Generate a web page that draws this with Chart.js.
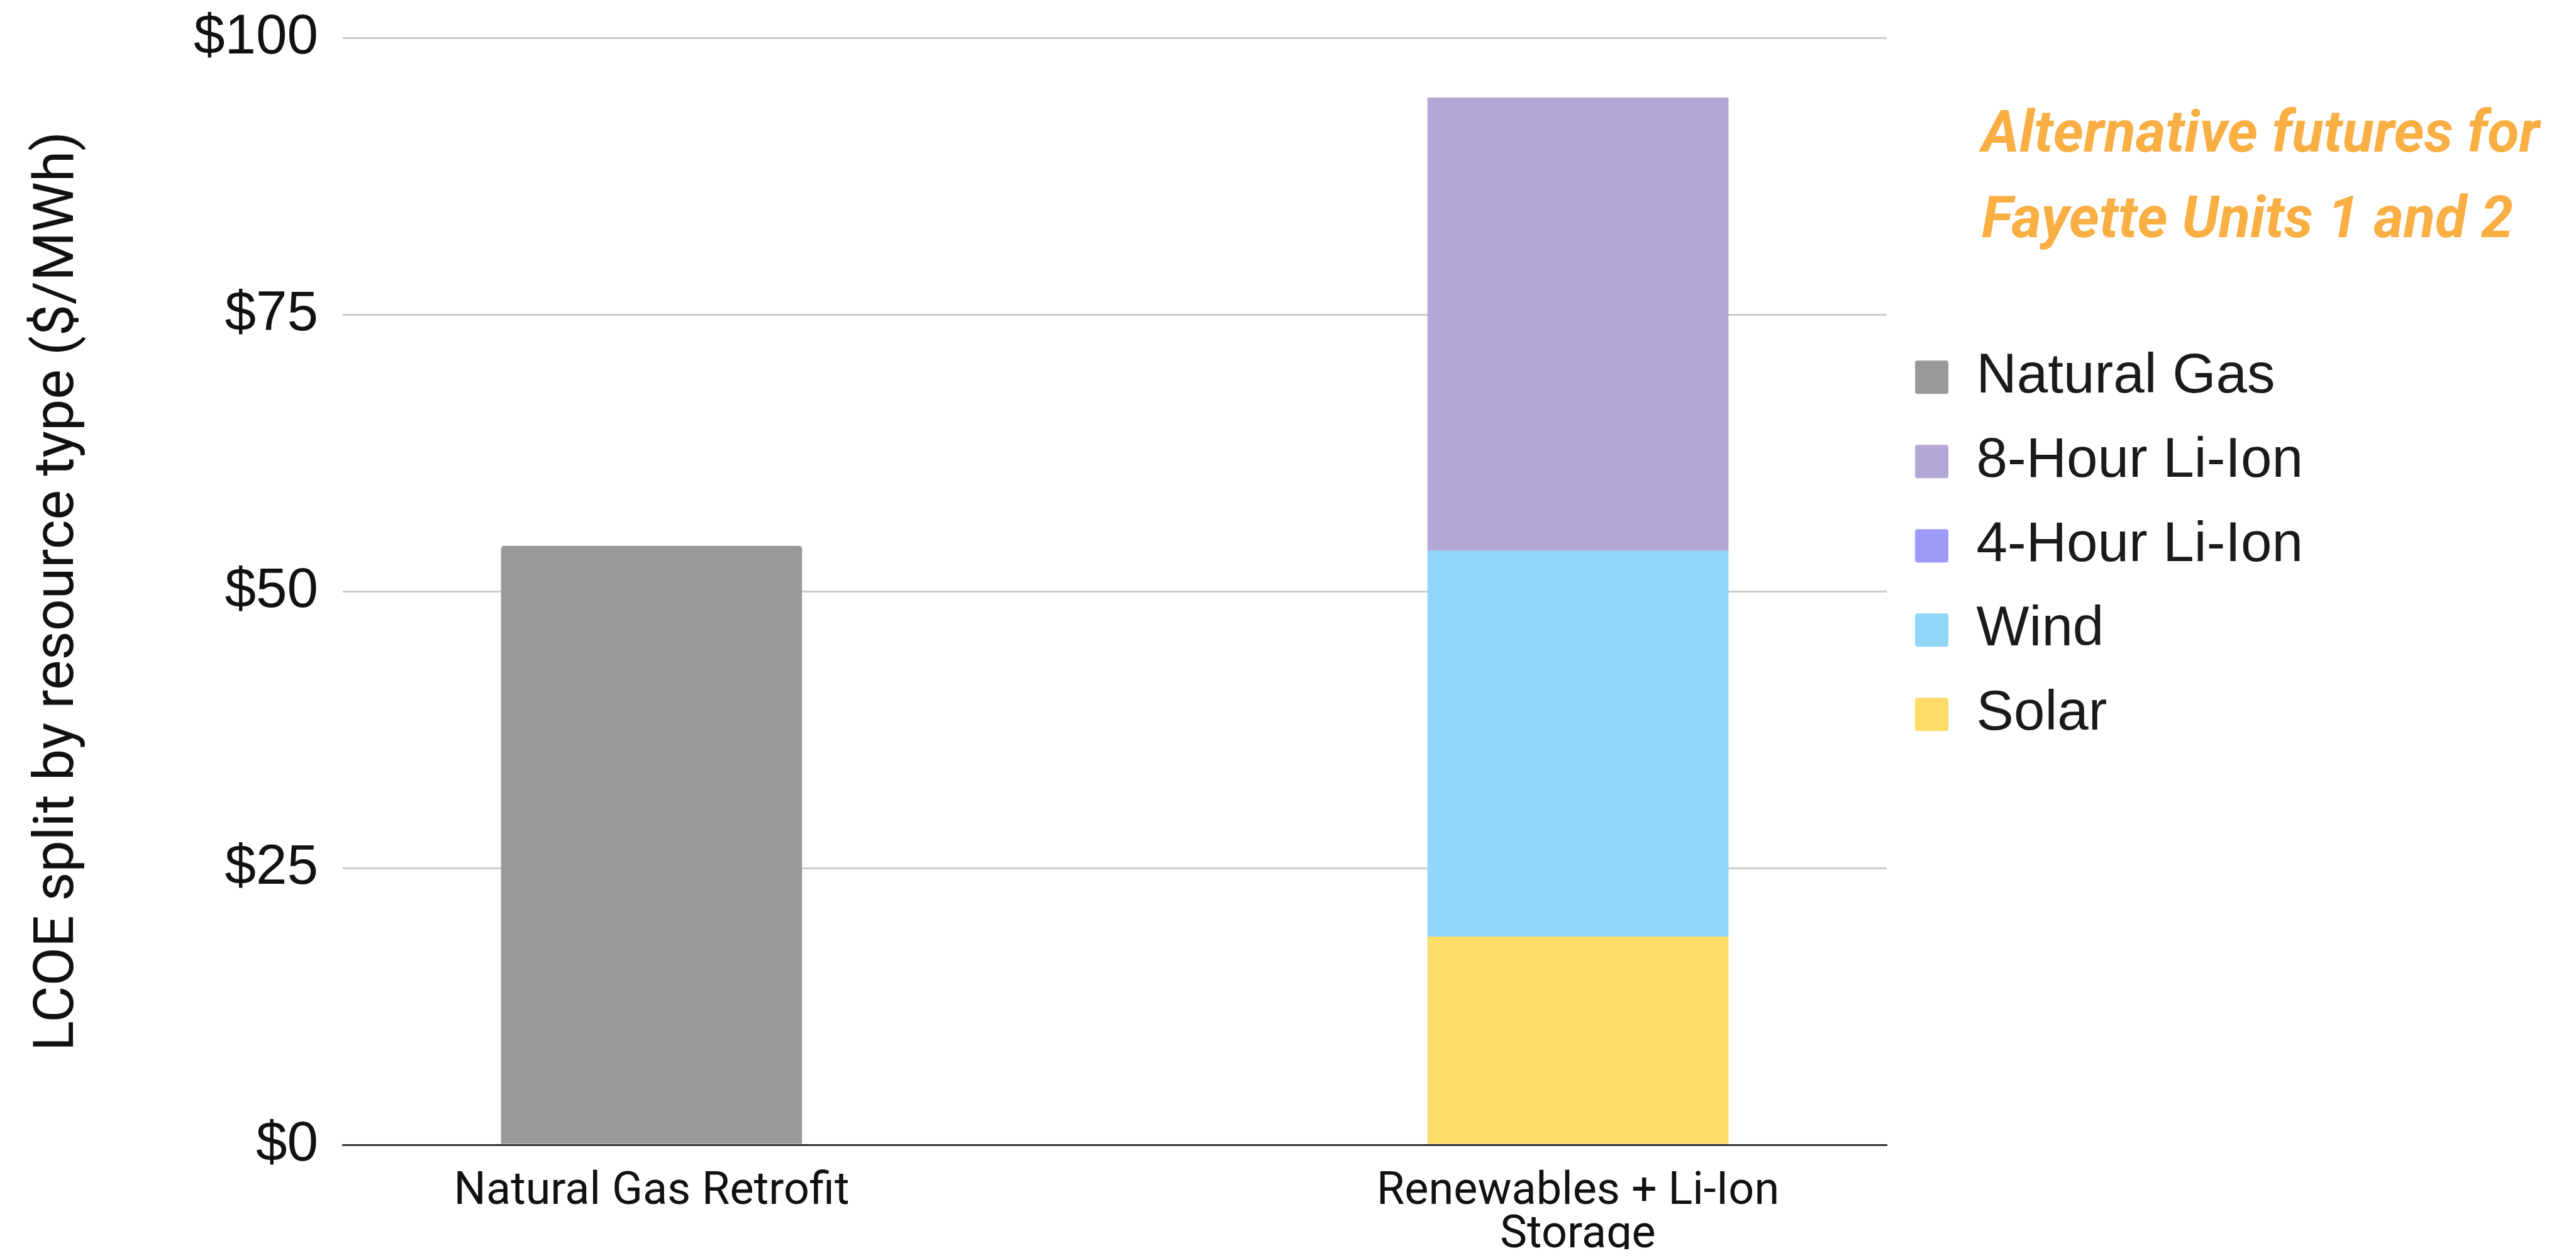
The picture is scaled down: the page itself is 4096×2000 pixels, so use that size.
<!DOCTYPE html>
<html>
<head>
<meta charset="utf-8">
<script src="https://cdn.jsdelivr.net/npm/chart.js"></script>
<style>
  html, body { margin: 0; padding: 0; background: #fff; }
  #wrap { width: 4096px; height: 2000px; position: relative; }
</style>
</head>
<body>
<div id="wrap"><canvas id="lcoeChart"></canvas></div>
<script>
// x categories (second one wraps on two lines)
const categories = ['Natural Gas Retrofit', ['Renewables + Li-Ion', 'Storage']];

// LCOE split by resource type, $/MWh, one value per category
const solar = [0, 18.8];
const wind = [0, 34.9];
const fourHourLiIon = [0, 0];
const eightHourLiIon = [0, 40.9];
const naturalGas = [54.1, 0];

const yTicks = [0, 25, 50, 75, 100];
const titleLines = ['Alternative futures for', 'Fayette Units 1 and 2'];

const toPoints = vals => vals.map((v, i) => ({ x: i, y: v }));

// orange heading in the top right corner
const cornerTitle = {
  id: 'cornerTitle',
  afterDraw(chart) {
    const ctx = chart.ctx;
    ctx.save();
    ctx.font = 'italic 700 92px Roboto';
    ctx.fillStyle = '#F9AF43';
    ctx.textAlign = 'left';
    ctx.textBaseline = 'alphabetic';
    titleLines.forEach((line, i) => ctx.fillText(line, 3151, 241 + i * 136));
    ctx.restore();
  }
};

const data = {
  datasets: [
    { label: 'Solar', data: toPoints(solar), backgroundColor: '#FEDC68' },
    { label: 'Wind', data: toPoints(wind), backgroundColor: '#91D6F7' },
    { label: '4-Hour Li-Ion', data: toPoints(fourHourLiIon), backgroundColor: '#9D9AF8' },
    { label: '8-Hour Li-Ion', data: toPoints(eightHourLiIon), backgroundColor: '#B4A7D6' },
    { label: 'Natural Gas', data: toPoints(naturalGas), backgroundColor: '#999999', borderRadius: 5 }
  ]
};

const config = {
  type: 'bar',
  data: data,
  plugins: [cornerTitle],
  options: {
    responsive: true,
    maintainAspectRatio: false,
    animation: false,
    devicePixelRatio: 1,
    categoryPercentage: 0.65,
    barPercentage: 0.5,
    borderWidth: 0,
    layout: { padding: { top: 60, right: 424, bottom: 14, left: 0 } },
    plugins: {
      tooltip: { enabled: false },
      legend: {
        position: 'right',
        align: 'start',
        reverse: true,
        // empty title used as a spacer above the items
        title: { display: true, text: '', font: { size: 1 }, padding: { top: 449, bottom: 0 } },
        labels: {
          boxWidth: 53,
          boxHeight: 53,
          padding: 45,
          useBorderRadius: true,
          borderRadius: 4,
          color: '#1a1a1a',
          font: { family: 'Liberation Sans', size: 89 }
        }
      }
    },
    scales: {
      x: {
        type: 'linear',
        stacked: true,
        min: -1 / 3,
        max: 4 / 3,
        offset: false,
        grid: { display: false, drawTicks: false },
        border: { display: true, color: '#333333', width: 3 },
        afterBuildTicks: axis => { axis.ticks = categories.map((c, i) => ({ value: i })); },
        afterFit: axis => { axis.height = 166; },
        ticks: {
          autoSkip: false,
          maxRotation: 0,
          padding: 41,
          color: '#111111',
          font: { family: 'Roboto', size: 72, lineHeight: 0.96 },
          callback: v => categories[v]
        }
      },
      y: {
        stacked: true,
        min: 0,
        max: 100,
        grid: {
          drawTicks: false,
          lineWidth: 3,
          color: ctx => (ctx.tick && ctx.tick.value === 0 ? '#333333' : '#cccccc')
        },
        border: { display: false },
        afterBuildTicks: axis => { axis.ticks = yTicks.map(v => ({ value: v })); },
        afterFit: axis => {
          axis.width = 545;
          axis.paddingTop = 0;
          axis.paddingBottom = 0;
        },
        ticks: {
          padding: 39,
          color: '#111111',
          font: { family: 'Liberation Sans', size: 89 },
          callback: v => '$' + v
        },
        title: {
          display: true,
          text: 'LCOE split by resource type ($/MWh)',
          color: '#111111',
          font: { family: 'Roboto', size: 89.6 },
          padding: { top: 40, bottom: 0 }
        }
      }
    }
  }
};

const lcoeChart = new Chart(document.getElementById('lcoeChart'), config);
</script>
</body>
</html>
